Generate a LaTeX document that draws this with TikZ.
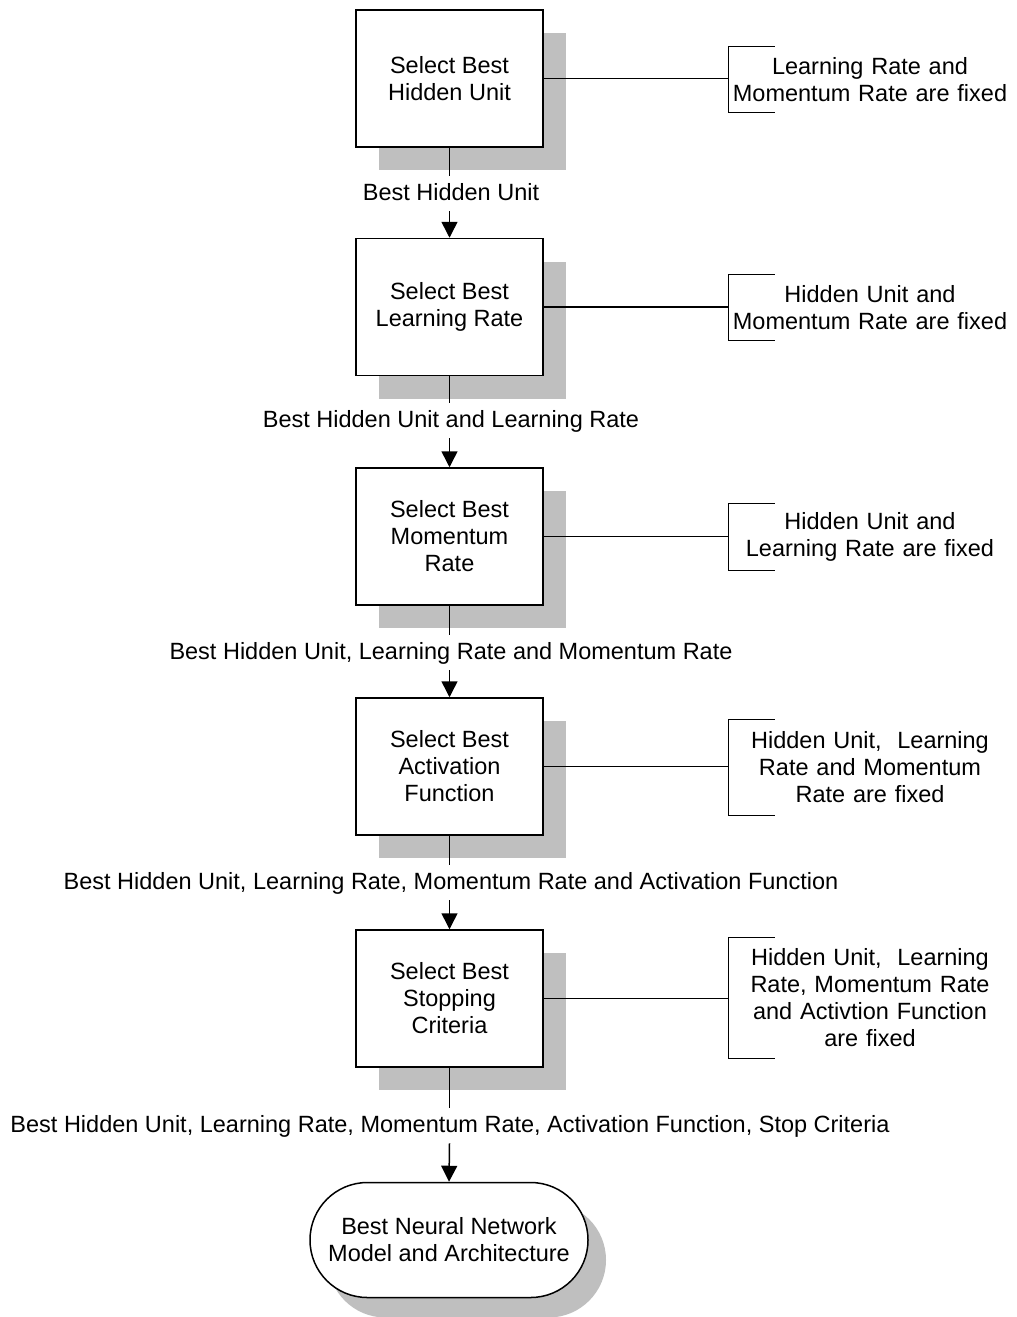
\documentclass[tikz,border=0pt]{standalone}
\usepackage{fontspec}
\setmainfont{Liberation Sans}
\usetikzlibrary{shadows,arrows.meta}
\begin{document}
\begin{tikzpicture}[x=0.5pt,y=-0.5pt,
  every node/.style={font=\fontsize{11.75}{13.5}\selectfont},
  line/.style={line width=0.75pt},
  arr/.style={line width=0.75pt,-{Triangle[length=8pt,width=8pt]}},
  stepbox/.style={draw,line width=0.75pt,fill=white,minimum width=93.5pt,minimum height=68.5pt,align=center,
    drop shadow={shadow xshift=11.5pt,shadow yshift=-11.5pt,fill=black!25,opacity=1}},
  endbox/.style={draw,line width=0.75pt,fill=white,minimum width=139pt,minimum height=57.5pt,align=center,rounded corners=28.7pt,
    drop shadow={shadow xshift=9pt,shadow yshift=-10pt,fill=black!25,opacity=1}},
  lab/.style={anchor=base,inner xsep=2pt,inner ysep=3pt,text height=9pt,text depth=2.5pt},
  fixed/.style={text width=141pt,align=center,inner sep=0pt}
]
\useasboundingbox[fill=white] (0,0) rectangle (1017,1317);

% main boxes
\node[stepbox] (b1) at (449.5,78.5) {Select Best\\Hidden Unit};
\node[stepbox] (b2) at (449.5,307) {Select Best\\Learning Rate};
\node[stepbox] (b3) at (449.5,536.5) {Select Best\\Momentum\\Rate};
\node[stepbox] (b4) at (449.5,766.5) {Select Best\\Activation\\Function};
\node[stepbox] (b5) at (449.5,998.5) {Select Best\\Stopping\\Criteria};
\node[endbox] (e) at (449,1240) {Best Neural Network\\Model and Architecture};

% labels between boxes
\node[lab] (l1) at (451,200) {Best Hidden Unit};
\node[lab] (l2) at (451,427) {Best Hidden Unit and Learning Rate};
\node[lab] (l3) at (451,659) {Best Hidden Unit, Learning Rate and Momentum Rate};
\node[lab] (l4) at (451,889) {Best Hidden Unit, Learning Rate, Momentum Rate and Activation Function};
\node[lab] (l5) at (450,1132) {Best Hidden Unit, Learning Rate, Momentum Rate, Activation Function, Stop Criteria};

% vertical connectors
\draw[line] (b1.south) -- (b1.south |- l1.north);
\draw[arr] (b1.south |- l1.south) -- (b2.north);
\draw[line] (b2.south) -- (b2.south |- l2.north);
\draw[arr] (b2.south |- l2.south) -- (b3.north);
\draw[line] (b3.south) -- (b3.south |- l3.north);
\draw[arr] (b3.south |- l3.south) -- (b4.north);
\draw[line] (b4.south) -- (b4.south |- l4.north);
\draw[arr] (b4.south |- l4.south) -- (b5.north);
\draw[line] (b5.south) -- (b5.south |- l5.north);
\draw[arr] (b5.south |- l5.south) -- (e.north);

% side notes with brackets
\node[fixed,minimum height=32.5pt] (f1) at (870,79.5) {Learning Rate and\\Momentum Rate are fixed};
\node[fixed,minimum height=32.5pt] (f2) at (870,307.5) {Hidden Unit and\\Momentum Rate are fixed};
\node[fixed,minimum height=33pt] (f3) at (870,537) {Hidden Unit and\\Learning Rate are fixed};
\node[fixed,minimum height=47.5pt] (f4) at (870,767.5) {Hidden Unit,~ Learning\\Rate and Momentum\\Rate are fixed};
\node[fixed,minimum height=60pt] (f5) at (870,998) {Hidden Unit,~ Learning\\Rate, Momentum Rate\\and Activtion Function\\are fixed};

\foreach \i in {1,...,5}{
  \draw[line] ([xshift=23pt]f\i.north west) -- (f\i.north west) -- (f\i.south west) -- ([xshift=23pt]f\i.south west);
  \draw[line] (b\i.east) -- (b\i.east -| f\i.west);
}
\end{tikzpicture}
\end{document}
